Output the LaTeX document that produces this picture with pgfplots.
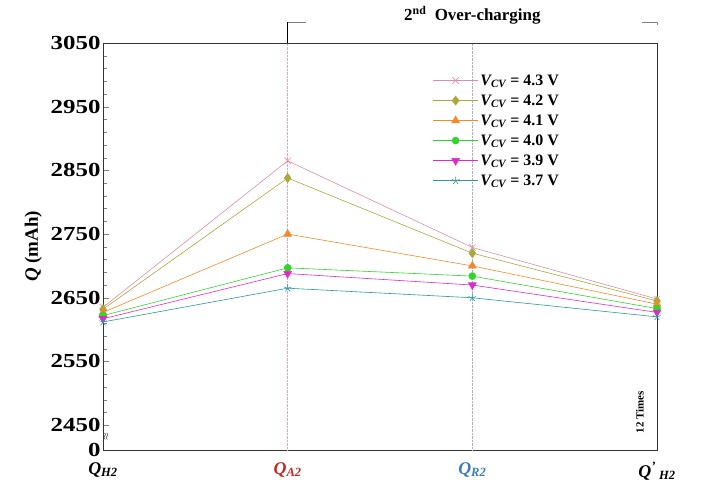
\documentclass[border=0pt]{standalone}
\usepackage{fontspec}
\setmainfont{Liberation Serif}
\usepackage{graphicx}
\usepackage{pgfplots}
\pgfplotsset{compat=1.18}
\definecolor{c43}{HTML}{D98FA5}
\definecolor{c42}{HTML}{A9A83A}
\definecolor{c41}{HTML}{F08A2A}
\definecolor{c40}{HTML}{2ED62E}
\definecolor{c39}{HTML}{E02AC8}
\definecolor{c37}{HTML}{2A9A9A}
\newcommand\W[1]{\scalebox{1.25}[1]{#1}}
\begin{document}
\begin{tikzpicture}
\begin{axis}[name=ax,
  scale only axis, width=554bp, height=407bp,
  xmin=0, xmax=3, ymin=2411, ymax=3050,
  xtick={0,1,2,3},
  xticklabels={{\itshape Q\textsubscript{H2}},{\color[HTML]{C42828}\itshape Q\textsubscript{A2}},{\color[HTML]{3A7DB8}\itshape Q\textsubscript{R2}},{\itshape Q\textsuperscript{'}\textsubscript{ H2}}},
  x tick label style={font=\fontsize{18}{19}\selectfont\bfseries, yshift=-9bp},
  xtick style={draw=none},
  ytick={2411,2450,2550,2650,2750,2850,2950,3050},
  yticklabels={\W{0},\W{2450},\W{2550},\W{2650},\W{2750},\W{2850},\W{2950},\W{3050}},
  y tick label style={font=\fontsize{20}{21}\selectfont\bfseries, xshift=1bp},
  minor ytick={2470,2490,...,3040},
  ytick pos=left, tick align=inside,
  major tick length=6bp, minor tick length=4bp,
  axis line style={line width=0.8pt, black!80},
  ylabel={\bfseries\itshape Q\upshape\ (mAh)},
  ylabel style={font=\fontsize{19}{20}\selectfont, yshift=2bp},
  clip=false,
  legend style={at={(0.595,0.928)}, anchor=north west, draw=none, fill=none,
    font=\fontsize{16}{17}\selectfont\bfseries, row sep=4bp, inner sep=0pt},
  legend cell align=left,
  legend image code/.code={\draw[#1] (0bp,0bp) -- (45bp,0bp); \draw[#1,only marks] plot coordinates {(22.5bp,0bp)};},
  every axis plot/.append style={line width=0.6pt},
]
\draw[densely dotted, color=c43!80] (axis cs:1,2411) -- (axis cs:1,3050);
\draw[densely dotted, color=blue!30!gray!50] (axis cs:2,2411) -- (axis cs:2,3050);
\addplot[color=c43, mark=x, mark size=4.5bp] coordinates {(0,2635) (1,2865) (2,2729) (3,2648)};
\addlegendentry{{\itshape V\textsubscript{CV}} = 4.3 V}
\addplot[color=c42, mark=diamond*, mark size=4.5bp] coordinates {(0,2632) (1,2838) (2,2720) (3,2645)};
\addlegendentry{{\itshape V\textsubscript{CV}} = 4.2 V}
\addplot[color=c41, mark=triangle*, mark size=4.5bp] coordinates {(0,2627) (1,2750) (2,2700) (3,2640)};
\addlegendentry{{\itshape V\textsubscript{CV}} = 4.1 V}
\addplot[color=c40, mark=*, mark size=3.5bp] coordinates {(0,2622) (1,2697) (2,2684) (3,2633)};
\addlegendentry{{\itshape V\textsubscript{CV}} = 4.0 V}
\addplot[color=c39, mark=triangle*, mark options={rotate=180}, mark size=4.5bp] coordinates {(0,2617) (1,2688) (2,2670) (3,2627)};
\addlegendentry{{\itshape V\textsubscript{CV}} = 3.9 V}
\addplot[color=c37, mark=star, mark size=4bp] coordinates {(0,2612) (1,2665) (2,2650) (3,2620)};
\addlegendentry{{\itshape V\textsubscript{CV}} = 3.7 V}
\coordinate (A1) at (axis cs:1,3050);
\coordinate (A2) at (axis cs:2,3050);
\node[font=\fontsize{11}{12}\selectfont\bfseries, rotate=90] at (rel axis cs:0.969,0.093) {12 Times};
\node[font=\fontsize{10}{10}\selectfont, rotate=90] at (rel axis cs:0.006,0.032) {$\approx$};
\end{axis}
\draw[black, line width=0.6pt] (A1) -- ++(0,21bp);
\draw[gray, line width=0.8pt] (A1) ++(0,21bp) -- ++(18bp,0);
\draw[gray, line width=0.8pt] (ax.north east) ++(0,18bp) -- ++(0,3bp) -- ++(-15bp,0);
\node[font=\fontsize{17}{18}\selectfont\bfseries] at (A2) [yshift=28bp] {2\textsuperscript{nd}\ \ Over-charging};
\pgfresetboundingbox
\path (ax.south west) ++(-103bp,-31bp) rectangle (ax.north east) ++(45bp,43bp);
\end{tikzpicture}
\end{document}
